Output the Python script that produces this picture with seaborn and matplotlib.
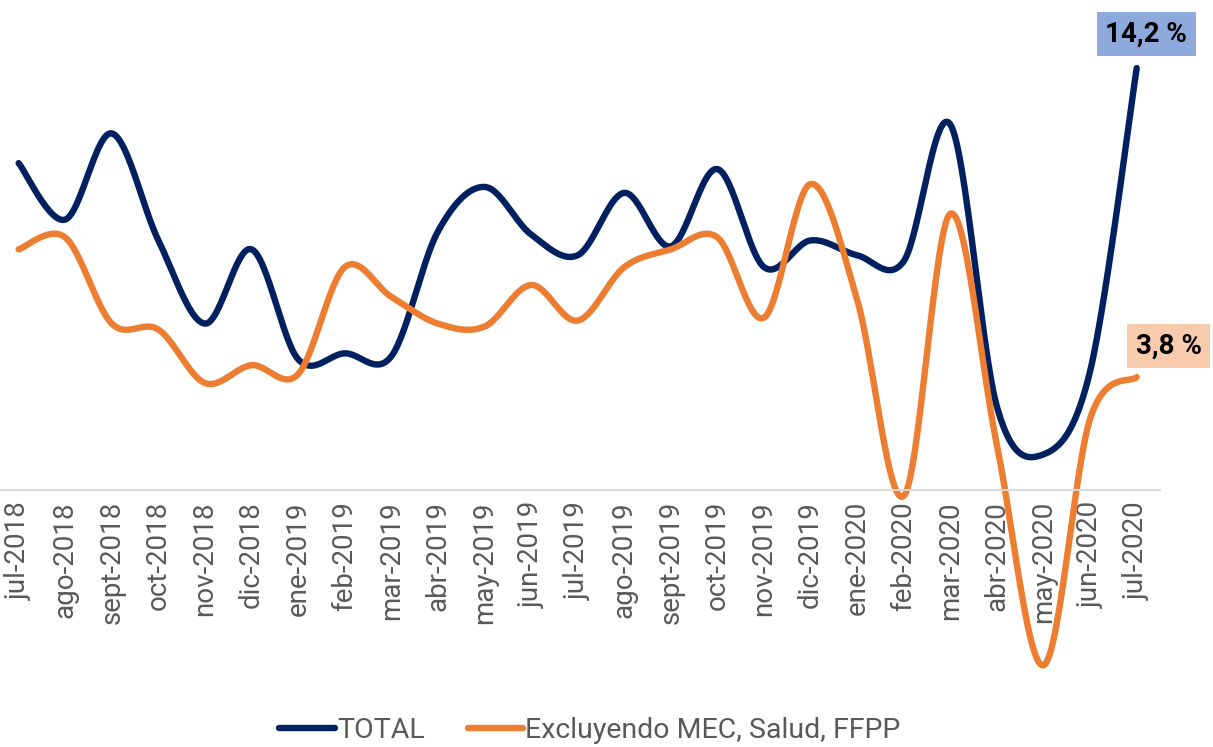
import matplotlib.pyplot as plt
import numpy as np
import pandas as pd
import seaborn as sns

months = ["jul-2018", "ago-2018", "sept-2018", "oct-2018", "nov-2018", "dic-2018",
          "ene-2019", "feb-2019", "mar-2019", "abr-2019", "may-2019", "jun-2019",
          "jul-2019", "ago-2019", "sept-2019", "oct-2019", "nov-2019", "dic-2019",
          "ene-2020", "feb-2020", "mar-2020", "abr-2020", "may-2020", "jun-2020",
          "jul-2020"]
total = [11.0, 9.1, 12.0, 8.4, 5.6, 8.1, 4.4, 4.6, 4.5, 8.7, 10.2, 8.6,
         7.9, 10.0, 8.2, 10.8, 7.5, 8.4, 7.9, 7.7, 12.3, 2.8, 1.2, 4.0, 14.2]
excl = [8.1, 8.5, 5.6, 5.4, 3.6, 4.2, 3.9, 7.5, 6.5, 5.6, 5.5, 6.9,
        5.7, 7.5, 8.1, 8.5, 5.8, 10.3, 6.4, -0.2, 9.3, 1.5, -5.9, 2.4, 3.8]
series_names = ["TOTAL", "Excluyendo MEC, Salud, FFPP"]
colors = ["#002060", "#ED7D31"]
box_colors = ["#8EA9DB", "#F8CBAD"]
end_labels = ["14,2 %", "3,8 %"]


def smooth(y, steps=30):
    # Excel-style smoothed line: cubic Bezier through every point
    y = np.asarray(y, dtype=float)
    x = np.arange(len(y), dtype=float)
    pts = np.column_stack([x, y])
    pad = np.vstack([pts[0], pts, pts[-1]])
    out = []
    t = np.linspace(0, 1, steps)[:, None]
    for i in range(len(pts) - 1):
        p0, p3 = pad[i + 1], pad[i + 2]
        p1 = p0 + (pad[i + 2] - pad[i]) / 6
        p2 = p3 - (pad[i + 3] - pad[i + 1]) / 6
        seg = ((1 - t) ** 3) * p0 + 3 * ((1 - t) ** 2) * t * p1 \
            + 3 * (1 - t) * t ** 2 * p2 + t ** 3 * p3
        out.append(seg if i == 0 else seg[1:])
    return np.vstack(out)


sns.set_theme(style="white")
plt.rcParams["font.family"] = ["Roboto", "DejaVu Sans"]

fig = plt.figure(figsize=(12.13, 7.47), dpi=100)
ax = fig.add_axes([0, 57 / 747, 1160 / 1213, 690 / 747])

for name, vals, col in zip(series_names, [total, excl], colors):
    curve = smooth(vals)
    df = pd.DataFrame({"x": curve[:, 0], "y": curve[:, 1]})
    sns.lineplot(data=df, x="x", y="y", sort=False, estimator=None, color=col,
                 lw=4.6, ax=ax, label=name, solid_capstyle="round")

# baseline at zero first (moving the spine resets the ticks)
for s in ["top", "left", "right"]:
    ax.spines[s].set_visible(False)
ax.spines["bottom"].set_position(("data", 0))
ax.spines["bottom"].set_color("#D9D9D9")
ax.spines["bottom"].set_linewidth(1.5)

ax.set_xlim(-0.40, 24.50)
ax.set_ylim(-6.73, 16.49)
ax.set_xticks(range(len(months)))
ax.set_xticklabels(months, rotation=90, fontsize=20, color="#595959")
ax.set_yticks([])
ax.set_xlabel("")
ax.set_ylabel("")
ax.tick_params(axis="x", length=0, pad=8)
ax.patch.set_alpha(0)

# end-of-series value boxes
offsets = [(7, 24.5), (23, 22.3)]
for vals, lab, bc, off in zip([total, excl], end_labels, box_colors, offsets):
    ax.annotate(lab, xy=(len(vals) - 1, vals[-1]), xytext=off,
                textcoords="offset points", ha="center", va="center",
                fontsize=20, fontweight="bold", color="black",
                bbox=dict(boxstyle="square,pad=0.3", fc=bc, ec="none"),
                annotation_clip=False)

leg = ax.legend(loc="center", bbox_to_anchor=(590 / 1213, 17 / 747),
                bbox_transform=fig.transFigure, ncol=2, frameon=False,
                fontsize=20.5, handlelength=1.95, handletextpad=0.08,
                columnspacing=1.5, labelcolor="#595959")
for h in leg.get_lines():
    h.set_linewidth(4.6)

fig.savefig("out.png", dpi=100)
